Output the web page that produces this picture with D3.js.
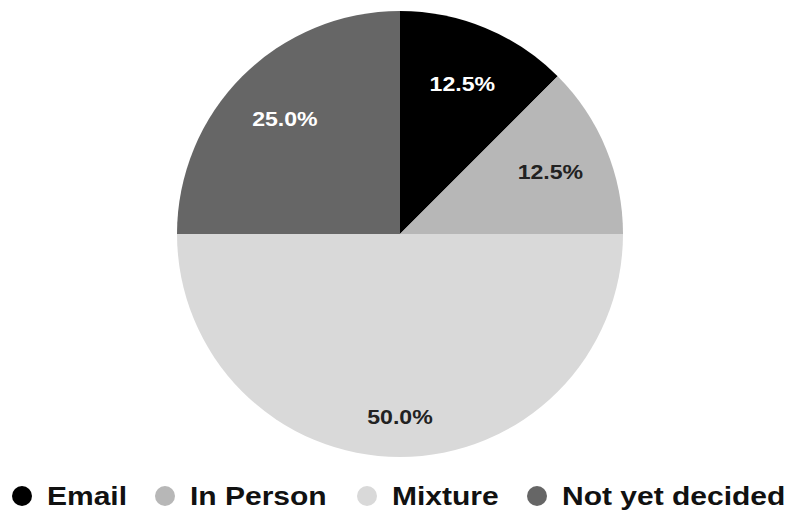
<!DOCTYPE html>
<html>
<head>
<meta charset="utf-8">
<script src="https://cdn.jsdelivr.net/npm/d3@7"></script>
<style>
  html, body { margin: 0; padding: 0; background: #fff; }
  svg { display: block; font-family: "Liberation Sans", Arial, sans-serif; }
</style>
</head>
<body>
<svg id="chart" width="791" height="512"></svg>
<script>
const categories = ["Email", "In Person", "Mixture", "Not yet decided"];
const values = [12.5, 12.5, 50.0, 25.0];
const colors = ["#000000", "#b7b7b7", "#d9d9d9", "#666666"];
const labelColors = ["#ffffff", "#222222", "#222222", "#ffffff"];

const W = 791, H = 512;
const cx = 400, cy = 234, R = 223;
const svg = d3.select("#chart");

const data = categories.map((c, i) => ({ name: c, value: values[i], color: colors[i], lc: labelColors[i] }));
const total = d3.sum(values);

const pie = d3.pie().sort(null).value(d => d.value);
const arc = d3.arc().innerRadius(0).outerRadius(R);
const arcs = pie(data);

const g = svg.append("g").attr("transform", `translate(${cx},${cy})`);
g.selectAll("path.slice").data(arcs).enter().append("path")
  .attr("class", "slice")
  .attr("d", arc)
  .attr("fill", d => d.data.color);

const fmt = d3.format(".1f");
g.selectAll("text.lbl").data(arcs).enter().append("text")
  .attr("class", "lbl")
  .attr("transform", d => {
    const a = (d.startAngle + d.endAngle) / 2;
    const r = R * (d.data.value / total >= 0.5 ? 0.82 : 0.73);
    return `translate(${Math.sin(a) * r},${-Math.cos(a) * r}) scale(1.1,1)`;
  })
  .attr("text-anchor", "middle")
  .attr("dy", "0.36em")
  .attr("font-size", 21)
  .attr("font-weight", "bold")
  .attr("fill", d => d.data.lc)
  .text(d => fmt(d.data.value / total * 100) + "%");

// Legend
const legendY = 496;
const legendX = [22, 165, 367, 537];
const lg = svg.append("g");
data.forEach((d, i) => {
  const item = lg.append("g").attr("transform", `translate(${legendX[i]},${legendY})`);
  item.append("circle").attr("r", 10).attr("fill", d.color);
  item.append("text")
    .attr("x", 0)
    .attr("transform", "translate(25,0) scale(1.2,1)")
    .attr("dy", "0.36em")
    .attr("font-size", 25)
    .attr("font-weight", "bold")
    .attr("fill", "#111")
    .text(d.name);
});
</script>
</body>
</html>
